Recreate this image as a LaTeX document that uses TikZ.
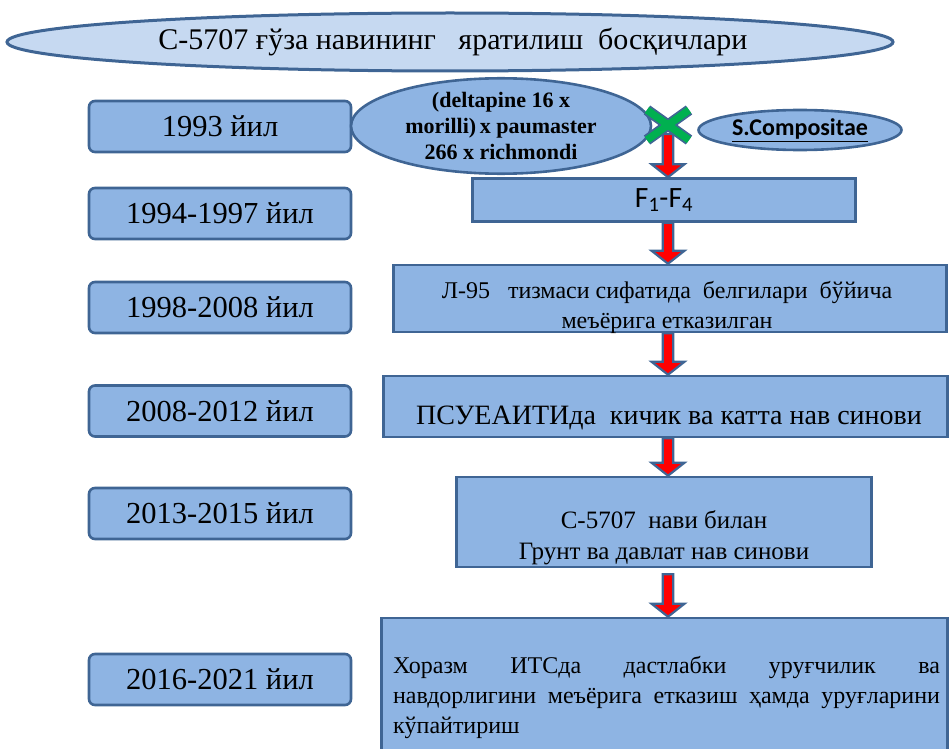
\documentclass[tikz,border=0pt]{standalone}
\usepackage{fontspec}
\setmainfont{Liberation Serif}
\newfontfamily\calib{Carlito}
\usetikzlibrary{shapes.geometric,calc}
\definecolor{bfill}{HTML}{8EB4E3}
\definecolor{tfill}{HTML}{C6D9F1}
\definecolor{bline}{HTML}{3F6594}
\definecolor{xgreen}{HTML}{00B050}
\definecolor{ared}{HTML}{FF0000}
\newcommand\redarrow[2]{%
  \path[arrowbody] let \p1=(#1), \p2=(#2) in
  (\x1-5.2pt,\y1) -- (\x1-5.2pt,\y2+13pt) -- (\x1-16.5pt,\y2+13pt) -- (\x1,\y2)
  -- (\x1+16.5pt,\y2+13pt) -- (\x1+5.2pt,\y2+13pt) -- (\x1+5.2pt,\y1) -- cycle;}
\begin{document}
\begin{tikzpicture}[x=1pt,y=-1pt,
  yearbox/.style={draw=bline, line width=2.6pt, fill=bfill, rounded corners=6pt,
    minimum width=262pt, minimum height=51pt, inner sep=0pt,
    font=\fontsize{30.5}{34}\selectfont},
  stagebox/.style={draw=bline, line width=2.6pt, fill=bfill, inner sep=0pt},
  ovalbox/.style={ellipse, draw=bline, line width=2.6pt, fill=bfill, inner sep=0pt},
  stagetext/.style={inner sep=0pt, align=center, font=\fontsize{24}{30}\selectfont},
  arrowbody/.style={draw=bline, line width=2.2pt, fill=ared, line join=miter}]
\useasboundingbox (0,0) rectangle (950,749);
\clip (0,0) rectangle (950,749);
\coordinate (ax) at (668,0);

% title
\node[ellipse, draw=bline, line width=3pt, fill=tfill, inner sep=0pt,
  minimum width=886pt, minimum height=58pt, font=\fontsize{30}{32}\selectfont]
  (title) at (450,42) {\hspace*{6pt}С-5707 ғўза навининг \ \ яратилиш \ босқичлари};

% year boxes
\node[yearbox] (y1) at (220,126.5) {1993 йил};
\node[yearbox] (y2) at (220,213.5) {1994-1997 йил};
\node[yearbox] (y3) at (220,307.5) {1998-2008 йил};
\node[yearbox] (y4) at (220,411) {2008-2012 йил};
\node[yearbox] (y5) at (220,513.5) {2013-2015 йил};
\node[yearbox] (y6) at (220,679.5) {2016-2021 йил};

% stage boxes
\node[stagebox, minimum width=383pt, minimum height=43pt] (f) at (664,200)
  {\calib\fontsize{29.5}{30}\selectfont F\textsubscript{1}-F\textsubscript{4}};
\node[stagebox, minimum width=553pt, minimum height=67pt] (l) at (670,298.5) {};
\node[stagebox, minimum width=564pt, minimum height=61pt] (p) at (665.5,406.5) {};
\node[stagebox, minimum width=415pt, minimum height=90pt] (c) at (664,522) {};
\node[stagebox, minimum width=566pt, minimum height=150pt] (h) at (664.5,693) {};

\node[stagetext] (lt) at (667,307) {Л-95 \ \ тизмаси сифатида \ белгилари \ бўйича\\меъёрига етказилган};
\node[stagetext, font=\fontsize{28}{32}\selectfont] (pt) at (669,418) {ПСУЕАИТИда \ кичик ва катта нав синови};
\node[stagetext, font=\fontsize{25}{31}\selectfont] (ct) at (664,537.5) {С-5707 \ нави билан\\Грунт ва давлат нав синови};
\node[inner sep=0pt, text width=547pt, align=justify, font=\fontsize{24}{30}\selectfont]
  (ht) at (666.5,697.5) {\tolerance=10000 Хоразм ИТСда дастлабки уруғчилик ва\linebreak
  навдорлигини меъёрига етказиш ҳамда уруғларини\linebreak кўпайтириш};

% arrows
\coordinate (a1) at (668,134);
\redarrow{a1}{f.north -| ax}
\redarrow{f.south -| ax}{l.north -| ax}
\redarrow{l.south -| ax}{p.north -| ax}
\redarrow{p.south -| ax}{c.north -| ax}
\coordinate (a5) at ($(c.south -| ax)+(0,6)$);
\redarrow{a5}{h.north -| ax}

% cross ovals
\node[ovalbox, minimum width=300pt, minimum height=89pt, align=center,
  font=\bfseries\fontsize{22}{26}\selectfont] (par) at (501,126)
  {(deltapine 16 x\\morilli)\,x paumaster\\266 x richmondi};
\node[ovalbox, minimum width=203pt, minimum height=40pt,
  font=\calib\bfseries\fontsize{24}{26}\selectfont] (sc) at (800,130)
  {\underline{S.Compositae}};

% green cross
\coordinate (xa) at (647,110);
\coordinate (xb) at (689,140);
\coordinate (xc) at (647,140);
\coordinate (xd) at (689,110);
\draw[bline, line width=11pt] (xa) -- (xb) (xc) -- (xd);
\draw[xgreen, line width=7.5pt] (xa) -- (xb) (xc) -- (xd);
\end{tikzpicture}
\end{document}
